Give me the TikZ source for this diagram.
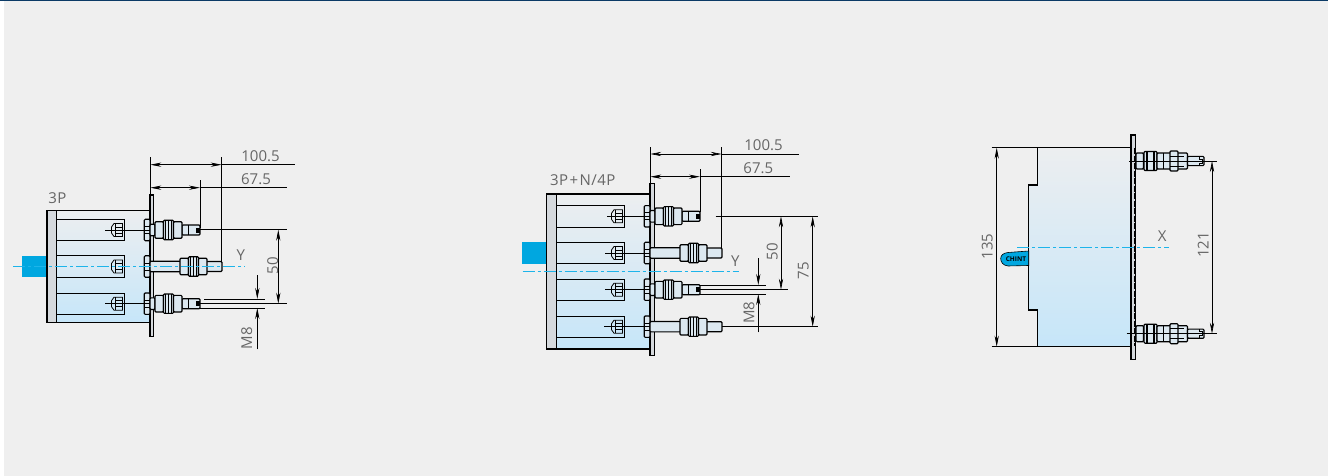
\documentclass[tikz,border=0pt]{standalone}
\usepackage{fontspec}
\setmainfont{Open Sans}
\usetikzlibrary{arrows.meta}
\definecolor{panel}{HTML}{EFEFEF}
\definecolor{navy}{HTML}{0B3A66}
\definecolor{cyanblue}{HTML}{00A7E0}
\definecolor{clinecol}{HTML}{1DB4EA}
\definecolor{dimgrey}{HTML}{666666}
\definecolor{shadetop}{HTML}{ECEEF0}
\definecolor{shadebot}{HTML}{C6E6F9}
\definecolor{platefill}{HTML}{D5D9DD}
\definecolor{shaftfill}{HTML}{DCE8F0}
\tikzset{
  x=1pt,y=-1pt,
  bodyfill/.style={top color=shadetop,bottom color=shadebot,draw=none},
  outline/.style={draw=black,line width=1.3pt,fill=none},
  thin part/.style={draw=black,line width=.8pt},
  part/.style={draw=black,line width=1.15pt,rounded corners=1pt,fill=shaftfill},
  rib/.style={draw=black,line width=1.5pt},
  dimline/.style={draw=black,line width=.65pt},
  dimtwo/.style={draw=black,line width=.65pt,{Stealth[length=11pt,width=4.2pt]}-{Stealth[length=11pt,width=4.2pt]}},
  dimin/.style={draw=black,line width=.65pt,-{Stealth[length=11pt,width=4.2pt]}},
  centerline/.style={draw=clinecol,line width=1.3pt,dash pattern=on 12pt off 3pt on 3pt off 3pt},
  lab/.style={text=dimgrey,font=\fontsize{15}{16}\selectfont,inner sep=0pt},
  spaced/.style={font=\fontsize{15}{16}\selectfont\addfontfeature{LetterSpace=3}},
  slot/.pic={
    \draw[thin part] (0,-10.7) -- (68,-10.7) -- (68,10.7) -- (0,10.7);
    \draw[thin part] (55.5,-3) -- (58,-6.5) -- (66.5,-6.5) -- (66.5,6.5) -- (58,6.5) -- (55.5,3) -- cycle;
    \draw[thin part] (59,-6.5) -- (59,6.5) (59,-3) -- (66.5,-3) (59,3) -- (66.5,3);
  },
  headpart/.pic={
    \draw[part] (-5.7,-10.7) rectangle (0,10.7);
    \draw[thin part] (-5.7,-3.5) -- (0,-3.5) (-5.7,3.5) -- (0,3.5);
  },
  nutset/.pic={
    \draw[part] (0,-8.3) rectangle (8.5,8.3);
    \draw[part] (8.5,-9.7) rectangle (18.5,9.7);
    \draw[rib] (10.5,-9.7) -- (10.5,9.7) (16.5,-9.7) -- (16.5,9.7);
    \draw[thin part] (13.5,-9.7) -- (13.5,9.7);
    \draw[part] (18.5,-8.3) rectangle (27,8.3);
  },
  studshort/.pic={
    \pic at (0,0) {headpart};
    \draw[part] (0,-5.8) rectangle (5,5.8);
    \draw[part] (32,-5) rectangle (50,5);
    \pic at (5,0) {nutset};
    \fill[black] (45.5,-2.5) rectangle (49.5,2.5);
    \draw[thin part] (38,-5) -- (38,5);
  },
  studlong/.pic={
    \pic at (0,0) {headpart};
    \draw[part] (0,-5.2) rectangle (31,5.2);
    \draw[part] (56,-5) rectangle (72,5);
    \pic at (30,0) {nutset};
  },
  sidestud/.pic={
    \draw[part] (0,-8) rectangle (7.5,8);
    \draw[part] (8,-9.5) rectangle (21,9.5);
    \draw[rib] (11,-9.5) -- (11,9.5) (18,-9.5) -- (18,9.5);
    \draw[part] (21,-8) rectangle (51.5,8);
    \draw[thin part] (27,-8) -- (27,8);
    \draw[part] (34,-10) rectangle (42,10);
    \draw[thin part] (34,-5) -- (48,-5) (34,5) -- (48,5);
    \draw[part] (51.5,-4.6) rectangle (68,4.6);
    \draw[thin part] (63,-4.6) -- (63,-2) -- (66,-2) -- (66,2) -- (63,2) -- (63,4.6);
  },
}
\begin{document}
\begin{tikzpicture}
\useasboundingbox (0,0) rectangle (1335,476);
\fill[panel] (4,0) rectangle (1327.5,476);
\fill[navy] (0,0) rectangle (1327.5,1.3);

% ---------- 3P ----------
\fill[cyanblue] (22,255.7) rectangle (47,277.3);
\path[bodyfill] (47,210.7) rectangle (150,322.7);
\fill[platefill] (47,210.7) rectangle (56,322.7);
\draw[thin part] (56,210.7) -- (56,322.7);
\pic at (56,230) {slot};
\pic at (56,266.5) {slot};
\pic at (56,303.7) {slot};
\draw[outline] (47,210.7) rectangle (150,322.7);
\path[part,rounded corners=0pt,fill=platefill] (150,195) rectangle (153.5,336.7);
\pic at (150,230) {studshort};
\pic at (150,266.5) {studlong};
\pic at (150,303.7) {studshort};
\draw[dimline] (105,230) -- (150,230);
\draw[dimline] (105,303.7) -- (150,303.7);
\draw[centerline] (13,266.7) -- (245,266.7);
\draw[dimline] (150.3,157) -- (150.3,195);
\draw[dimline] (221.7,157) -- (221.7,261.7);
\draw[dimline] (200,180) -- (200,228);
\draw[dimtwo] (150.3,164.7) -- (221.7,164.7);
\draw[dimline] (221.7,164.7) -- (295,164.7);
\draw[dimtwo] (150.3,187.7) -- (200,187.7);
\draw[dimline] (200,187.7) -- (286.7,187.7);
\draw[dimline] (200,229.7) -- (286.7,229.7);
\draw[dimline] (200,303.7) -- (286.7,303.7);
\draw[dimtwo] (278.3,229.7) -- (278.3,303.7);
\draw[dimline] (204,299) -- (265,299);
\draw[dimline] (200,308) -- (265,308);
\draw[dimin] (257.3,275) -- (257.3,299);
\draw[dimin] (257.3,349.3) -- (257.3,308);
\node[lab] (a1) at (260.5,156) {100.5};
\node[lab] (a2) at (256,179.3) {67.5};
\node[lab,spaced] (a3) at (57.3,197.7) {3P};
\node[lab] (a4) at (240.7,255) {Y};
\node[lab,rotate=90] (a5) at (272.7,266) {50};
\node[lab,rotate=90] (a6) at (246.7,338) {M8};

% ---------- 3P+N/4P ----------
\fill[cyanblue] (521.7,242.3) rectangle (547,264.3);
\path[bodyfill] (546.7,194) rectangle (650,349);
\fill[platefill] (546.7,194) rectangle (556,349);
\draw[thin part] (556,194) -- (556,349);
\pic at (556,216.3) {slot};
\pic at (556,253) {slot};
\pic at (556,289.7) {slot};
\pic at (556,326.7) {slot};
\draw[outline] (546.7,194) rectangle (650,349);
\path[part,rounded corners=0pt,fill=platefill] (650,183.3) rectangle (654.3,355.7);
\pic at (650,216.3) {studshort};
\pic at (650,253) {studlong};
\pic at (650,289.7) {studshort};
\pic at (650,326.7) {studlong};
\draw[dimline] (607,216.3) -- (650,216.3);
\draw[dimline] (605,253) -- (650,253);
\draw[dimline] (605,289.7) -- (650,289.7);
\draw[dimline] (604,326.7) -- (650,326.7);
\draw[centerline] (522.7,271.7) -- (739,271.7);
\draw[dimline] (650.3,147.3) -- (650.3,183.3);
\draw[dimline] (721.7,147.3) -- (721.7,248);
\draw[dimline] (700,169.3) -- (700,211.7);
\draw[dimtwo] (650.3,154) -- (721.7,154);
\draw[dimline] (721.7,154) -- (799,154);
\draw[dimtwo] (650.3,176.7) -- (700,176.7);
\draw[dimline] (700,176.7) -- (790,176.7);
\draw[dimline] (715.7,216.3) -- (818.3,216.3);
\draw[dimline] (700,289.7) -- (788.3,289.7);
\draw[dimline] (722,326.7) -- (818.3,326.7);
\draw[dimtwo] (781,216.3) -- (781,289.7);
\draw[dimtwo] (812.7,216.3) -- (812.7,326.7);
\draw[dimline] (700,285) -- (765.7,285);
\draw[dimline] (700,294) -- (765.7,294);
\draw[dimin] (758.3,258.3) -- (758.3,285);
\draw[dimin] (758.3,332.3) -- (758.3,294);
\node[lab] (b1) at (763.5,145.6) {100.5};
\node[lab] (b2) at (758.3,168.6) {67.5};
\node[lab,spaced] (b3) at (582.7,180) {3P\hspace{1.5pt}+\hspace{1.5pt}N/4P};
\node[lab] (b4) at (735.3,260.7) {Y};
\node[lab,rotate=90] (b5) at (772.3,251.7) {50};
\node[lab,rotate=90] (b6) at (803.3,270.7) {75};
\node[lab,rotate=90] (b7) at (749,312.7) {M8};

% ---------- side view ----------
\path[bodyfill] (1037.7,147.7) -- (1037.7,185) -- (1028.7,185) -- (1028.7,310) -- (1037.7,310) -- (1037.7,346.7) -- (1133,346.7) -- (1133,147.7) -- cycle;
\draw[outline] (1133,147.7) -- (1037.7,147.7) -- (1037.7,185) -- (1028.7,185) -- (1028.7,310) -- (1037.7,310) -- (1037.7,346.7) -- (1133,346.7);
\draw[fill=cyanblue,draw=black,line width=.6pt] (1028.7,251) -- (1008,252.5) .. controls (1003,253) and (1000.7,255.5) .. (1000.7,258.5) .. controls (1000.7,262) and (1003,265.5) .. (1008,266) -- (1028.7,265.5) -- cycle;
\node[inner sep=0pt,font=\fontsize{6.5}{7}\bfseries\selectfont,text=black] (c0) at (1016,259.2) {CHINT};
\path[draw=black,line width=1.1pt,fill=platefill] (1131,135) rectangle (1135.7,359.3);
\draw[black,line width=.9pt,dash pattern=on 6pt off 1.5pt] (1134.4,148) -- (1134.4,346);
\pic at (1136,161) {sidestud};
\pic at (1136,333.7) {sidestud};
\draw[centerline] (1017.3,247.7) -- (1169,247.7);
\draw[dimline] (991.7,147.7) -- (1037.7,147.7);
\draw[dimline] (991.7,346.7) -- (1037.7,346.7);
\draw[dimtwo] (996.7,147.7) -- (996.7,346.7);
\draw[dimline] (1129,161) -- (1217,161);
\draw[dimline] (1126.7,333.7) -- (1217,333.7);
\draw[dimtwo] (1212,161) -- (1212,333.7);
\node[lab,rotate=90] (c1) at (987.3,246.7) {135};
\node[lab,rotate=90] (c2) at (1203.3,245) {121};
\node[lab] (c3) at (1162.3,236) {X};
\end{tikzpicture}
\end{document}
